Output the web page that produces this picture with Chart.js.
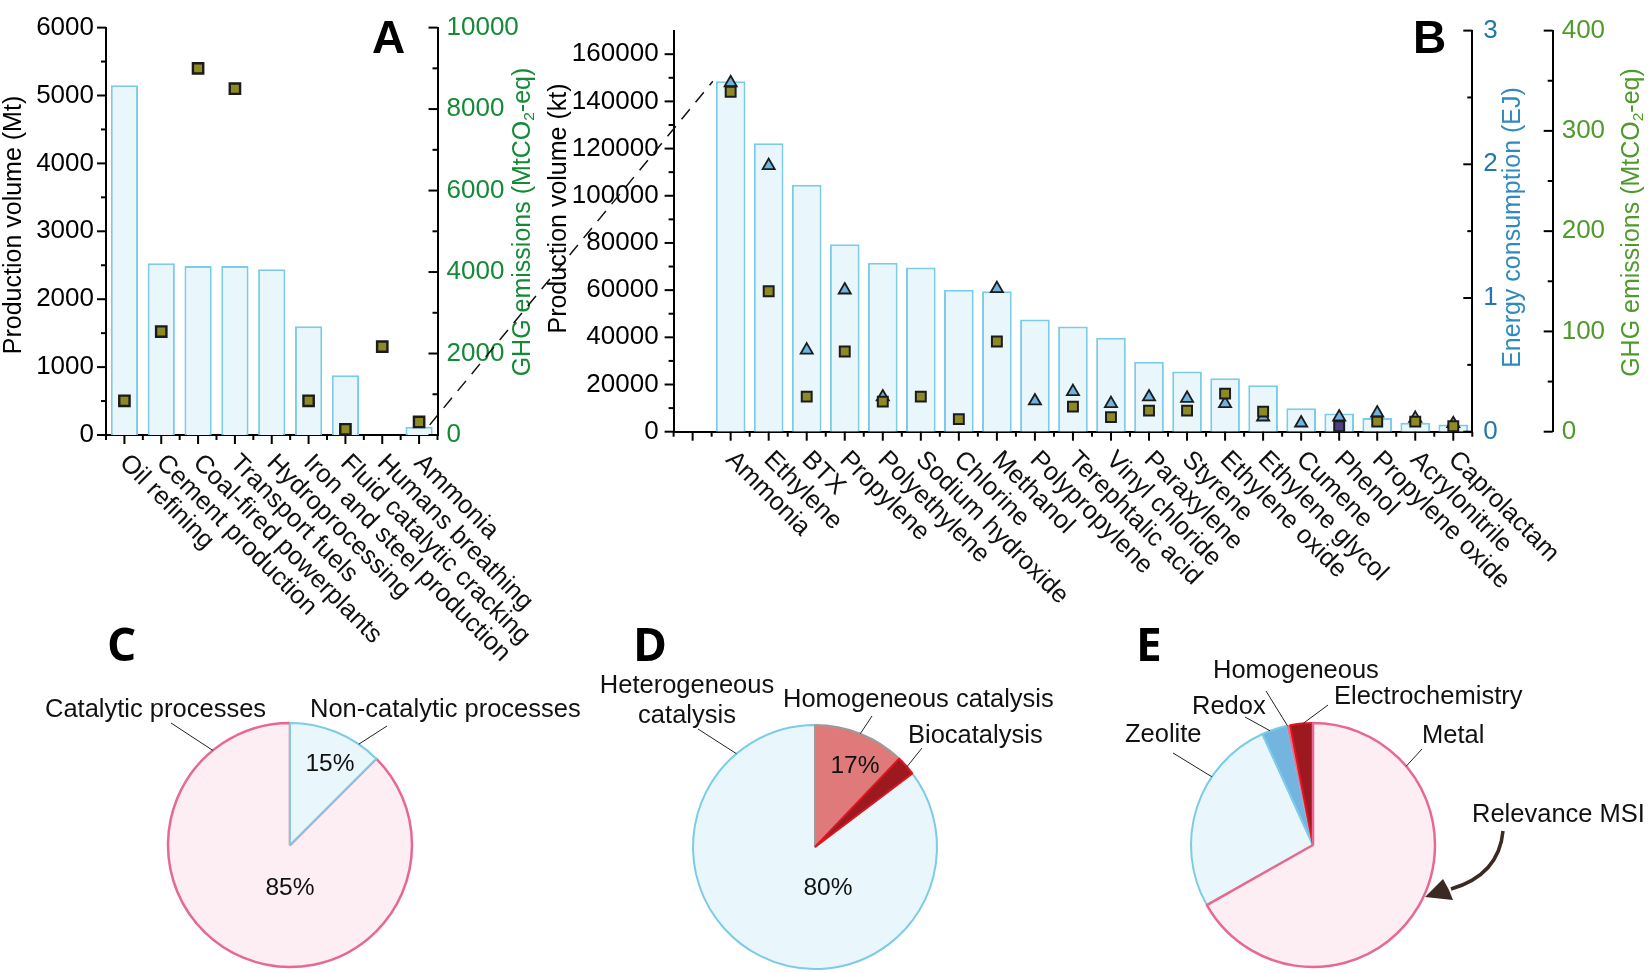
<!DOCTYPE html>
<html>
<head>
<meta charset="utf-8">
<title>Catalysis production, energy and emissions</title>
<script src="https://cdn.jsdelivr.net/npm/chart.js@4.4.1/dist/chart.umd.min.js"></script>
<style>
  html, body { margin: 0; padding: 0; background: #fff; }
  #page { position: relative; width: 1650px; height: 973px; overflow: hidden; }
  #page canvas { position: absolute; }
</style>
</head>
<body>
<div id="page">
  <canvas id="chartA" width="560" height="700" style="left:0;top:0"></canvas>
  <canvas id="chartB" width="1120" height="700" style="left:530px;top:0"></canvas>
  <canvas id="pieC" width="600" height="373" style="left:0;top:600px"></canvas>
  <canvas id="pieD" width="540" height="373" style="left:560px;top:600px"></canvas>
  <canvas id="pieE" width="560" height="373" style="left:1090px;top:600px"></canvas>
  <canvas id="overlay" width="1650" height="973" style="left:0;top:0"></canvas>
</div>
<script>
const FONT = "'Liberation Sans', Arial, Helvetica, sans-serif";
Chart.defaults.font.family = FONT;
Chart.defaults.color = "#000";
Chart.defaults.animation = false;

// panel A: large processes
const catsA = ["Oil refining", "Cement production", "Coal-fired powerplants", "Transport fuels",
  "Hydroprocessing", "Iron and steel production", "Fluid catalytic cracking", "Humans breathing", "Ammonia"];
const prodA = [5150, 2530, 2490, 2490, 2440, 1600, 880, 0, 120];          // Mt
const ghgA = [840, 2540, 9000, 8500, null, 840, 140, 2170, 320];           // MtCO2-eq

// panel B: chemicals (first slot left empty on the axis)
const catsB = ["", "Ammonia", "Ethylene", "BTX", "Propylene", "Polyethylene", "Sodium hydroxide",
  "Chlorine", "Methanol", "Polypropylene", "Terephtalic acid", "Vinyl chloride", "Paraxylene",
  "Styrene", "Ethylene oxide", "Ethylene glycol", "Cumene", "Phenol", "Propylene oxide",
  "Acrylonitrile", "Caprolactam"];
const prodB = [null, 148500, 122300, 104700, 79500, 71600, 69600, 60200, 59500, 47600, 44600,
  39800, 29600, 25500, 22700, 19700, 9900, 7700, 5800, 3800, 3100];        // kt
const energyB = [null, 2.61, 1.99, 0.61, 1.06, 0.26, null, null, 1.07, 0.23, 0.30,
  0.21, 0.26, 0.25, 0.21, 0.11, 0.065, 0.11, 0.14, 0.10, 0.06];            // EJ
const ghgB = [null, 339, 140, 35, 80, 30, 35, 12.5, 90, null, 25,
  14.5, 21, 21, 38, 20, null, 5.5, 10, 10, 5.5];                           // MtCO2-eq
const oddSquare = "Phenol";

// pies (shares as drawn, printed labels as written)
const pieCNames = ["Catalytic processes", "Non-catalytic processes"];
const pieCShares = [87.5, 12.5];
const pieCPrinted = ["85%", "15%"];
const pieDNames = ["Heterogeneous catalysis", "Homogeneous catalysis", "Biocatalysis"];
const pieDShares = [85.3, 12.1, 2.6];
const pieDPrinted = ["80%", "17%", ""];
const pieENames = ["Zeolite", "Redox", "Homogeneous", "Electrochemistry", "Metal"];
const pieEShares = [26.4, 3.4, 0.4, 3.0, 66.8];

// colours
const barFill = "#e9f6fb", barEdge = "#7ccbe7";
const olive = "#8d8a24", markEdge = "#1b1b1b", skyTri = "#6db4e0", purple = "#4f3f7c";
const greenA = "#148a36", teal = "#2378a8", tealTitle = "#2f8bbf", greenB = "#4f9a2c";
const pink = "#fdeef3", pinkEdge = "#e8688f";

function noGrid() { return { display: false, drawTicks: false, tickLength: 0 }; }
function axisBorder() { return { display: true, color: "#000", width: 2 }; }
function seg(ctx, x1, y1, x2, y2) { ctx.beginPath(); ctx.moveTo(x1, y1); ctx.lineTo(x2, y2); ctx.stroke(); }

function yAxis(pos, min, max, step, color, pad, width, labelStep) {
  return {
    position: pos, min: min, max: max,
    grid: noGrid(), border: axisBorder(),
    afterFit: s => { s.width = width; },
    ticks: {
      stepSize: step, autoSkip: false, padding: pad, color: color, font: { size: 26 },
      callback: v => (Math.abs(v / labelStep - Math.round(v / labelStep)) < 1e-6 ? String(v) : "")
    }
  };
}

// tick marks: all y ticks point left, x ticks point down
function drawYTicks(ctx, s, major, minor, top) {
  const ax = s.position === "left" ? s.right : s.left;
  ctx.save(); ctx.strokeStyle = "#000"; ctx.lineWidth = 2;
  for (let v = s.min; v <= top + 1e-9; v += minor) {
    const isMajor = Math.abs(v / major - Math.round(v / major)) < 1e-6;
    const y = s.getPixelForValue(v);
    seg(ctx, ax, y, ax - (isMajor ? 9 : 5), y);
  }
  ctx.restore();
}
function drawXTicks(ctx, x, n) {
  const half = (x.getPixelForValue(1) - x.getPixelForValue(0)) / 2;
  ctx.save(); ctx.strokeStyle = "#000"; ctx.lineWidth = 2;
  for (let i = 0; i < n; i++) {
    const c = x.getPixelForValue(i);
    seg(ctx, c, x.top, c, x.top + 9);
    seg(ctx, c - half, x.top, c - half, x.top + 5);
  }
  const end = x.getPixelForValue(n - 1) + half;
  seg(ctx, end, x.top, end, x.top + 5);
  ctx.restore();
}
function drawXLabels(ctx, x, labels) {
  ctx.save();
  ctx.font = "25.5px " + FONT; ctx.fillStyle = "#111"; ctx.textAlign = "left"; ctx.textBaseline = "alphabetic";
  labels.forEach((t, i) => {
    if (!t) return;
    const px = x.getPixelForValue(i);
    ctx.save(); ctx.translate(px - 6, x.top + 29); ctx.rotate(Math.PI / 4); ctx.fillText(t, 0, 0); ctx.restore();
  });
  ctx.restore();
}
// rotated axis title, parts = [[text, isSubscript]]
function vTitle(ctx, x, y, parts, color) {
  ctx.save(); ctx.translate(x, y); ctx.rotate(-Math.PI / 2);
  ctx.fillStyle = color; ctx.textBaseline = "middle"; ctx.textAlign = "left";
  const fonts = parts.map(p => (p[1] ? "15.5px " : "25px ") + FONT);
  let w = 0;
  const ws = parts.map((p, i) => { ctx.font = fonts[i]; const m = ctx.measureText(p[0]).width; w += m; return m; });
  let cx = -w / 2;
  parts.forEach((p, i) => { ctx.font = fonts[i]; ctx.fillText(p[0], cx, p[1] ? 7 : 0); cx += ws[i]; });
  ctx.restore();
}
const ghgTitle = [["GHG emissions (MtCO"], ["2", true], ["-eq)"]];

// ---------- panel A ----------
const chartA = new Chart(document.getElementById("chartA"), {
  type: "bar",
  data: {
    labels: catsA,
    datasets: [
      { type: "line", data: ghgA, yAxisID: "y2", showLine: false, clip: false, order: 1,
        pointStyle: "rect", pointRadius: 7.3, pointBackgroundColor: olive,
        pointBorderColor: markEdge, pointBorderWidth: 2.4 },
      { type: "bar", data: prodA, yAxisID: "y", order: 2,
        backgroundColor: barFill, borderColor: barEdge, borderWidth: 2,
        barPercentage: 0.74, categoryPercentage: 1 }
    ]
  },
  options: {
    responsive: false,
    layout: { padding: { top: 19, left: 0, right: 0, bottom: 0 } },
    plugins: { legend: { display: false }, tooltip: { enabled: false } },
    scales: {
      x: { grid: noGrid(), border: axisBorder(), ticks: { display: false },
           afterFit: s => { s.height = 700 - 435; } },
      y: yAxis("left", 0, 6000, 1000, "#000", 12, 106, 1000),
      y2: yAxis("right", 0, 10000, 2000, greenA, 9, 560 - 437.5, 2000)
    }
  },
  plugins: [{
    id: "panelA",
    afterDraw(chart) {
      const ctx = chart.ctx, s = chart.scales;
      drawYTicks(ctx, s.y, 1000, 500, 6000);
      drawYTicks(ctx, s.y2, 2000, 1000, 10000);
      drawXTicks(ctx, s.x, catsA.length);
      drawXLabels(ctx, s.x, catsA);
      vTitle(ctx, s.y.right - 92, 225, [["Production volume (Mt)"]], "#000");
      vTitle(ctx, s.y2.left + 85.5, 222, ghgTitle, greenA);
    }
  }]
});

// ---------- panel B ----------
const chartB = new Chart(document.getElementById("chartB"), {
  type: "bar",
  data: {
    labels: catsB,
    datasets: [
      { type: "line", data: ghgB, yAxisID: "yG", showLine: false, clip: false, order: 1,
        pointStyle: "rect", pointRadius: 7, pointBackgroundColor: c => (catsB[c.dataIndex] === oddSquare ? purple : olive),
        pointBorderColor: markEdge, pointBorderWidth: 2 },
      { type: "line", data: energyB, yAxisID: "yE", showLine: false, clip: false, order: 2,
        pointStyle: "triangle", pointRadius: 7, pointBackgroundColor: skyTri,
        pointBorderColor: markEdge, pointBorderWidth: 1.8 },
      { type: "bar", data: prodB, yAxisID: "y", order: 3,
        backgroundColor: barFill, borderColor: barEdge, borderWidth: 2,
        barPercentage: 0.78, categoryPercentage: 1 }
    ]
  },
  options: {
    responsive: false,
    layout: { padding: { top: 15, left: 0, right: 0, bottom: 0 } },
    plugins: { legend: { display: false }, tooltip: { enabled: false } },
    scales: {
      x: { grid: noGrid(), border: axisBorder(), ticks: { display: false },
           afterFit: s => { s.height = 700 - 431.7; } },
      y: yAxis("left", 0, 170000, 10000, "#000", 15, 143.6, 20000),
      yE: Object.assign(yAxis("right", 0, 3, 1, teal, 11, 80.4, 1), { weight: 0 }),
      yG: Object.assign(yAxis("right", 0, 400, 100, greenB, 9, 1120 - 1022.7, 100), { weight: 1 })
    }
  },
  plugins: [{
    id: "panelB",
    afterDraw(chart) {
      const ctx = chart.ctx, s = chart.scales;
      drawYTicks(ctx, s.y, 20000, 10000, 160000);
      drawYTicks(ctx, s.yE, 1, 0.5, 3);
      drawYTicks(ctx, s.yG, 100, 50, 400);
      drawXTicks(ctx, s.x, catsB.length);
      drawXLabels(ctx, s.x, catsB);
      vTitle(ctx, s.y.right - 114.6, 208.5, [["Production volume (kt)"]], "#000");
      vTitle(ctx, s.yE.left + 40.7, 227.5, [["Energy consumption (EJ)"]], tealTitle);
      vTitle(ctx, s.yG.left + 79, 222.5, ghgTitle, greenB);
    }
  }]
});

// ---------- pies ----------
// label specs are offsets from the pie centre; lead = [x, y, angle on rim]
function pieDecor(id, labels, percents, extra) {
  return {
    id: id,
    afterDraw(chart) {
      const ctx = chart.ctx;
      const arc = chart.getDatasetMeta(0).data[0];
      const cx = arc.x, cy = arc.y, r = arc.outerRadius;
      ctx.save();
      ctx.fillStyle = "#111"; ctx.strokeStyle = "#222"; ctx.lineWidth = 1;
      ctx.font = "25.5px " + FONT; ctx.textBaseline = "alphabetic";
      labels.forEach(l => {
        ctx.textAlign = l.align || "left";
        l.lines.forEach((t, k) => ctx.fillText(t, cx + l.x, cy + l.y + k * 30));
        if (l.lead) {
          const a = l.lead[2] * Math.PI / 180;
          seg(ctx, cx + l.lead[0], cy + l.lead[1], cx + Math.sin(a) * r, cy - Math.cos(a) * r);
        }
      });
      ctx.font = "24.5px " + FONT; ctx.textAlign = "center"; ctx.textBaseline = "middle";
      percents.forEach(p => { if (p.t) ctx.fillText(p.t, cx + p.x, cy + p.y); });
      if (extra) extra(ctx, cx, cy);
      ctx.restore();
    }
  };
}
function pieOptions(rotation, pad) {
  return {
    responsive: false, radius: 122, rotation: rotation,
    layout: { padding: pad },
    plugins: { legend: { display: false }, tooltip: { enabled: false } }
  };
}

new Chart(document.getElementById("pieC"), {
  type: "pie",
  data: { labels: pieCNames, datasets: [{ data: pieCShares,
    backgroundColor: [pink, "#e9f6fb"], borderColor: [pinkEdge, "#7ccbe7"], borderWidth: [2.5, 2] }] },
  options: pieOptions(pieCShares[1] * 3.6, { left: 165, right: 185, top: 120, bottom: 3 }),
  plugins: [pieDecor("pieCLabels", [
    { lines: [pieCNames[0]], x: -245, y: -128, lead: [-119, -122, 320.8] },
    { lines: [pieCNames[1]], x: 20, y: -128, lead: [97, -119, 34.3] }
  ], [
    { t: pieCPrinted[1], x: 40, y: -81 },
    { t: pieCPrinted[0], x: 0, y: 43 }
  ])]
});

new Chart(document.getElementById("pieD"), {
  type: "pie",
  data: { labels: pieDNames, datasets: [{ data: pieDShares,
    backgroundColor: ["#e9f6fb", "#e07a7a", "#9c1a1f"],
    borderColor: ["#7ccbe7", "#9b9b9b", "#e3121c"], borderWidth: 2 }] },
  options: pieOptions((pieDShares[1] + pieDShares[2]) * 3.6, { left: 130, right: 160, top: 122, bottom: 1 }),
  plugins: [pieDecor("pieDLabels", [
    { lines: ["Heterogeneous", "catalysis"], x: -128, y: -154, align: "center", lead: [-117, -118, 319.9] },
    { lines: [pieDNames[1]], x: -32, y: -140, lead: [57, -131, 21.8] },
    { lines: [pieDNames[2]], x: 93, y: -104, lead: [107, -99, 48.9] }
  ], [
    { t: pieDPrinted[1], x: 40, y: -81 },
    { t: pieDPrinted[0], x: 13, y: 41 }
  ])]
});

new Chart(document.getElementById("pieE"), {
  type: "pie",
  data: { labels: pieENames, datasets: [{ data: pieEShares,
    backgroundColor: ["#e9f6fb", "#74b5df", "#e8708a", "#9c1a1f", pink],
    borderColor: ["#7ccbe7", "#7ccbe7", "#e8708a", "#e0141e", pinkEdge],
    borderWidth: [2, 2, 1, 2, 2.5] }] },
  options: pieOptions(pieEShares[4] * 3.6, { left: 98, right: 212, top: 120, bottom: 3 }),
  plugins: [pieDecor("pieELabels", [
    { lines: [pieENames[2]], x: -100, y: -167, lead: [-47, -154, 347.9] },
    { lines: [pieENames[1]], x: -121, y: -131, lead: [-68, -128, 339.4] },
    { lines: [pieENames[0]], x: -188, y: -103, lead: [-140, -92, 304] },
    { lines: [pieENames[3]], x: 21, y: -141, lead: [15, -140, 355.4] },
    { lines: [pieENames[4]], x: 109, y: -102, lead: [109, -96, 49.8] },
    { lines: ["Relevance MSI"], x: 159, y: -23 }
  ], [], (ctx, cx, cy) => {
    // curved arrow pointing at the Metal slice
    ctx.strokeStyle = "#3a2a22"; ctx.fillStyle = "#3a2a22"; ctx.lineWidth = 3.5;
    ctx.beginPath(); ctx.moveTo(cx + 190, cy - 14);
    ctx.quadraticCurveTo(cx + 186, cy + 30, cx + 138, cy + 44); ctx.stroke();
    ctx.beginPath();
    ctx.moveTo(cx + 112, cy + 52); ctx.lineTo(cx + 130, cy + 34);
    ctx.lineTo(cx + 136, cy + 45); ctx.lineTo(cx + 140, cy + 55);
    ctx.closePath(); ctx.fill();
  })]
});

// ---------- overlay: zoom line and panel letters ----------
(function () {
  const ctx = document.getElementById("overlay").getContext("2d");
  const bA = chartA.getDatasetMeta(1).data[catsA.indexOf("Ammonia")];
  const bB = chartB.getDatasetMeta(2).data[catsB.indexOf("Ammonia")];
  const offB = 530;
  ctx.save();
  ctx.setLineDash([13, 9]); ctx.lineWidth = 1.5; ctx.strokeStyle = "#111";
  seg(ctx, bA.x + bA.width / 2 - 3, bA.y - 2, offB + bB.x - bB.width / 2 - 3, bB.y);
  ctx.restore();
  ctx.fillStyle = "#000"; ctx.textBaseline = "alphabetic"; ctx.textAlign = "left";
  ctx.font = "bold 46px " + FONT;
  ctx.fillText("A", 372, 53);
  ctx.fillText("B", 1413, 53);
  ctx.font = "bold 46px 'Open Sans', " + FONT;
  ctx.fillText("C", 107, 661);
  ctx.fillText("D", 633, 661);
  ctx.fillText("E", 1136, 661);
})();
</script>
</body>
</html>
